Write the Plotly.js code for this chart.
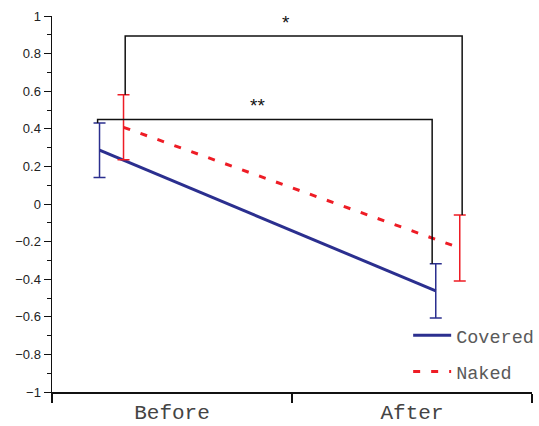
<!DOCTYPE html>
<html>
<head>
<meta charset="utf-8">
<script src="https://cdn.plot.ly/plotly-3.0.1.min.js"></script>
<style>html,body{margin:0;padding:0;background:#fff;}#chart{width:539px;height:426px;}</style>
</head>
<body>
<div id="chart"></div>
<script>
// ---- data ----
const categories = ['Before', 'After'];
const seriesNames = ['Covered', 'Naked'];
const coveredMean = [0.286, -0.462];
const coveredErr = [0.145, 0.144];
const nakedMean = [0.408, -0.234];
const nakedErr = [0.173, 0.176];
const yTickVals = [-1, -0.8, -0.6, -0.4, -0.2, 0, 0.2, 0.4, 0.6, 0.8, 1];
const yTickText = ['\u22121', '\u22120.8', '\u22120.6', '\u22120.4', '\u22120.2', '0', '0.2', '0.4', '0.6', '0.8', '1'];
const sigLabels = ['**', '*'];
const sigLevels = [0.45, 0.893];

// ---- layout helpers (positions / styles) ----
const groupX = [0.248, 1.649];
const labelX = [0.5, 1.5];
const offset = 0.05;
const xCov = groupX.map(g => g - offset);
const xNak = groupX.map(g => g + offset);
const blue = '#2b2f8f';
const red = '#ee1c25';
const monoFont = 'Liberation Mono, Courier New, monospace';
const sansFont = 'Liberation Sans, Arial, sans-serif';

const traces = [
  {
    x: xCov, y: coveredMean, name: seriesNames[0], type: 'scatter', mode: 'lines',
    line: {color: blue, width: 3},
    error_y: {type: 'data', array: coveredErr, visible: true, color: blue, thickness: 1.5, width: 6},
    legendgroup: 'a'
  },
  {
    x: xNak, y: nakedMean, name: seriesNames[1], type: 'scatter', mode: 'lines',
    line: {color: red, width: 3, dash: '7px,11px'},
    error_y: {type: 'data', array: nakedErr, visible: true, color: red, thickness: 1.5, width: 6},
    legendgroup: 'b'
  },
  // "**" bracket between Covered before/after
  {
    x: [xCov[0] - 0.008, xCov[0] - 0.008, xCov[1] - 0.015, xCov[1] - 0.015],
    y: [coveredMean[0] + coveredErr[0], sigLevels[0], sigLevels[0], coveredMean[1] + coveredErr[1]],
    mode: 'lines', line: {color: '#111', width: 1.5}, showlegend: false, hoverinfo: 'skip'
  },
  // "*" bracket between Naked before/after
  {
    x: [xNak[0] + 0.007, xNak[0] + 0.007, xNak[1] + 0.01, xNak[1] + 0.01],
    y: [nakedMean[0] + nakedErr[0], sigLevels[1], sigLevels[1], nakedMean[1] + nakedErr[1]],
    mode: 'lines', line: {color: '#111', width: 1.5}, showlegend: false, hoverinfo: 'skip'
  }
];

const layout = {
  width: 539, height: 426,
  margin: {l: 52, r: 7, t: 16, b: 34, pad: 0, autoexpand: false},
  paper_bgcolor: '#fff', plot_bgcolor: '#fff',
  showlegend: true,
  legend: {
    x: 0.742, xanchor: 'left', y: 0.2, yanchor: 'top',
    bgcolor: 'rgba(0,0,0,0)', font: {family: monoFont, size: 18.5, color: '#5a5a5a'},
    traceorder: 'grouped', tracegroupgap: 9, itemwidth: 38
  },
  xaxis: {
    range: [0, 2], showgrid: false, zeroline: false,
    showline: true, linecolor: '#111', linewidth: 1.5,
    tickmode: 'array', tickvals: labelX, ticktext: categories,
    ticks: '', ticklen: 0,
    tickfont: {family: monoFont, size: 21, color: '#444'},
    minor: {tickmode: 'array', tickvals: [0, 1, 2], ticks: 'outside', ticklen: 9, tickwidth: 1.2, tickcolor: '#111'},
    fixedrange: true
  },
  yaxis: {
    range: [-1, 1], showgrid: false, zeroline: false,
    showline: true, linecolor: '#111', linewidth: 1.5,
    tickmode: 'array', tickvals: yTickVals, ticktext: yTickText,
    ticks: 'outside', ticklen: 7, tickwidth: 1, tickcolor: '#111',
    tickfont: {family: sansFont, size: 13, color: '#222'},
    minor: {dtick: 0.1, tick0: 0, ticks: 'outside', ticklen: 4, tickwidth: 1, tickcolor: '#111'},
    fixedrange: true
  },
  annotations: [
    {x: 0.856, y: sigLevels[0] + 0.075, text: sigLabels[0], showarrow: false, xref: 'x', yref: 'y', yanchor: 'middle', font: {family: sansFont, size: 19, color: '#111'}},
    {x: 0.974, y: sigLevels[1] + 0.07, text: sigLabels[1], showarrow: false, xref: 'x', yref: 'y', yanchor: 'middle', font: {family: sansFont, size: 19, color: '#111'}}
  ]
};

Plotly.newPlot('chart', traces, layout, {displayModeBar: false, staticPlot: true});
</script>
</body>
</html>
